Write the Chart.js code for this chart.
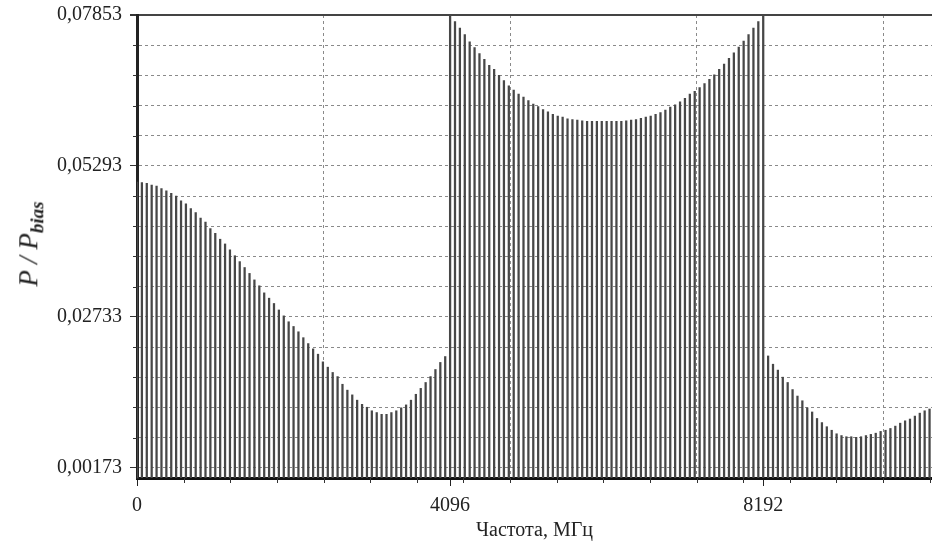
<!DOCTYPE html>
<html>
<head>
<meta charset="utf-8">
<script src="https://cdn.jsdelivr.net/npm/chart.js@4.4.1/dist/chart.umd.min.js"></script>
<style>
  html, body { margin: 0; padding: 0; background: #fff; }
  #wrap { position: relative; width: 932px; height: 544px; }
  #ytitle {
    position: absolute; left: 31px; top: 244px;
    transform: translate(-50%, -50%) rotate(-90deg);
    font: italic 27px "Liberation Serif", serif; color: #222; white-space: nowrap;
  }
  #ytitle sub { font-size: 19px; font-weight: bold; }
</style>
</head>
<body>
<div id="wrap">
  <canvas id="spectrum"></canvas>
  <div id="ytitle">P / P<sub>bias</sub></div>
</div>
<script>
// шаг между спектральными линиями, МГц
const STEP = 64;

// 0 ... 4032 МГц
const band1 = [
  0.0502, 0.0501, 0.0500, 0.0497, 0.0495, 0.0491, 0.0487, 0.0483, 0.0478, 0.0470,
  0.0465, 0.0457, 0.0450, 0.0441, 0.0434, 0.0423, 0.0415, 0.0405, 0.0397, 0.0387,
  0.0377, 0.0367, 0.0357, 0.0347, 0.0336, 0.0326, 0.0314, 0.0305, 0.0296, 0.0285,
  0.0275, 0.0265, 0.0257, 0.0248, 0.0238, 0.0228, 0.0219, 0.0210, 0.0197, 0.0188,
  0.0179, 0.0172, 0.0159, 0.0149, 0.0141, 0.0132, 0.0125, 0.0120, 0.0114, 0.0111,
  0.0108, 0.0108, 0.0111, 0.0114, 0.0119, 0.0124, 0.0132, 0.0142, 0.0152, 0.0162,
  0.0172, 0.0184, 0.0196, 0.0206
];
// 4096 ... 8192 МГц
const band2 = [
  0.07853, 0.0774, 0.0763, 0.0752, 0.0740, 0.0730, 0.0720, 0.0710, 0.0700, 0.0693,
  0.0683, 0.0674, 0.0665, 0.0658, 0.0651, 0.0646, 0.0640, 0.0634, 0.0630, 0.0625,
  0.0621, 0.0617, 0.0614, 0.0612, 0.0609, 0.0608, 0.0607, 0.0606, 0.0605, 0.0605,
  0.0605, 0.0605, 0.0605, 0.0605, 0.0605, 0.0605, 0.0606, 0.0607, 0.0608, 0.0610,
  0.0612, 0.0614, 0.0617, 0.0620, 0.0624, 0.0629, 0.0633, 0.0638, 0.0644, 0.0651,
  0.0656, 0.0662, 0.0669, 0.0676, 0.0684, 0.0693, 0.0702, 0.0712, 0.0721, 0.0731,
  0.0741, 0.0752, 0.0763, 0.0774, 0.07853
];
// 8256 ... 10368 МГц
const band3 = [
  0.0207, 0.0193, 0.0183, 0.0171, 0.0162, 0.0150, 0.0139, 0.0131, 0.0119, 0.0112,
  0.0101, 0.0094, 0.0087, 0.0081, 0.0075, 0.0072, 0.0070, 0.0070, 0.0069, 0.0070,
  0.0072, 0.0074, 0.0076, 0.0079, 0.0081, 0.0084, 0.0088, 0.0093, 0.0097, 0.0100,
  0.0105, 0.0110, 0.0114, 0.0117
];

const xLabelTicks = [0, 4096, 8192];
const X_MAX = 10400;
const X_GRID = 2440;
const yLabelTicks = [0.00173, 0.02733, 0.05293, 0.07853];
const Y_MINOR = 0.00512;

const values = band1.concat(band2, band3);
const points = values.map((v, i) => ({ x: i * STEP, y: v }));

const yTicks = [];
for (let v = yLabelTicks[0]; v <= yLabelTicks[3] + 1e-6; v += Y_MINOR) yTicks.push(+v.toFixed(5));
const xGridTicks = [];
for (let v = X_GRID; v < X_MAX; v += X_GRID) xGridTicks.push(v);

const isYLabel = v => yLabelTicks.some(t => Math.abs(t - v) < 1e-6);
const isXLabel = v => xLabelTicks.includes(v);
const isTop = c => c.tick && c.tick.value >= yLabelTicks[3] - 1e-6;

const serif = '"Liberation Serif", "Times New Roman", serif';

// мелкие засечки на осях
const minorTicks = {
  id: 'minorTicks',
  afterDraw(chart) {
    const { ctx, chartArea, scales } = chart;
    ctx.save();
    ctx.strokeStyle = '#333';
    ctx.lineWidth = 1;
    ctx.beginPath();
    for (let v = X_GRID / 4; v < X_MAX; v += X_GRID / 4) {
      const px = Math.round(scales.x.getPixelForValue(v)) + 0.5;
      ctx.moveTo(px, chartArea.bottom);
      ctx.lineTo(px, chartArea.bottom + 5);
    }
    yTicks.forEach(v => {
      if (isYLabel(v)) return;
      const py = Math.round(scales.y.getPixelForValue(v)) + 0.5;
      ctx.moveTo(chartArea.left - 4, py);
      ctx.lineTo(chartArea.left, py);
    });
    ctx.stroke();
    ctx.restore();
  }
};

new Chart(document.getElementById('spectrum'), {
  type: 'bar',
  data: {
    datasets: [{
      data: points,
      backgroundColor: '#474747',
      barThickness: 1.6,
      borderWidth: 0
    }]
  },
  options: {
    responsive: true,
    maintainAspectRatio: false,
    animation: false,
    layout: { padding: { top: 15, left: 0, right: 0, bottom: 0 } },
    plugins: { legend: { display: false }, tooltip: { enabled: false } },
    scales: {
      x: {
        type: 'linear',
        min: 0,
        max: X_MAX,
        offset: false,
        afterFit: s => { s.height = 66; s.paddingRight = 0; },
        afterBuildTicks: s => {
          s.ticks = xLabelTicks.concat(xGridTicks).sort((a, b) => a - b).map(v => ({ value: v }));
        },
        ticks: {
          autoSkip: false,
          maxRotation: 0,
          padding: 8,
          color: '#222',
          font: { family: serif, size: 20 },
          callback: v => isXLabel(v) ? String(v) : ''
        },
        grid: {
          offset: false,
          tickLength: 8,
          color: c => (c.tick && xGridTicks.includes(c.tick.value)) ? '#8a8a8a' : 'rgba(0,0,0,0)',
          tickColor: c => (c.tick && isXLabel(c.tick.value)) ? '#222' : 'rgba(0,0,0,0)'
        },
        border: { color: '#111', width: 3, dash: [3, 3] },
        title: {
          display: true,
          text: 'Частота, МГц',
          color: '#222',
          font: { family: serif, size: 20 },
          padding: { top: 0, bottom: 1 }
        }
      },
      y: {
        min: 0,
        max: yLabelTicks[3],
        afterFit: s => { s.width = 137; s.paddingTop = 0; s.paddingBottom = 0; },
        afterBuildTicks: s => { s.ticks = yTicks.map(v => ({ value: v })); },
        ticks: {
          autoSkip: false,
          padding: 8,
          color: '#222',
          font: { family: serif, size: 20 },
          callback: v => isYLabel(v) ? v.toFixed(5).replace('.', ',') : ''
        },
        grid: {
          tickLength: 7,
          color: c => isTop(c) ? '#444' : '#8a8a8a',
          lineWidth: c => isTop(c) ? 2 : 1,
          tickColor: c => (c.tick && isYLabel(c.tick.value)) ? '#333' : 'rgba(0,0,0,0)'
        },
        border: {
          color: '#222',
          width: 3,
          dash: c => isTop(c) ? [] : [3, 3]
        }
      }
    }
  },
  plugins: [minorTicks]
});
</script>
</body>
</html>
